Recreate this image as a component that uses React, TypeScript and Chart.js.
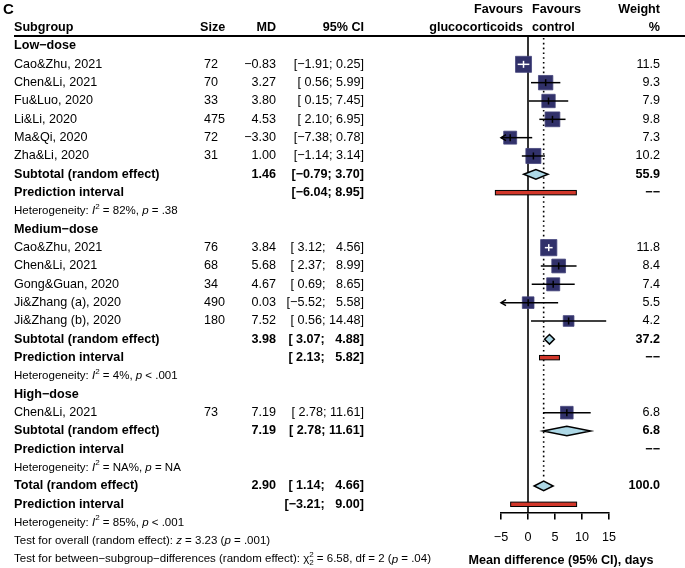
import React, { useEffect, useRef } from "react";
import { Chart, registerables } from "chart.js";
Chart.register(...registerables);

// ---------------- data ----------------
const groupNames = ["Low\u2212dose", "Medium\u2212dose", "High\u2212dose"];

const lowStudies = ["Cao&Zhu, 2021", "Chen&Li, 2021", "Fu&Luo, 2020", "Li&Li, 2020", "Ma&Qi, 2020", "Zha&Li, 2020"];
const lowSize = [72, 70, 33, 475, 72, 31];
const lowMD = [-0.83, 3.27, 3.8, 4.53, -3.3, 1.0];
const lowLower = [-1.91, 0.56, 0.15, 2.1, -7.38, -1.14];
const lowUpper = [0.25, 5.99, 7.45, 6.95, 0.78, 3.14];
const lowWeight = [11.5, 9.3, 7.9, 9.8, 7.3, 10.2];

const medStudies = ["Cao&Zhu, 2021", "Chen&Li, 2021", "Gong&Guan, 2020", "Ji&Zhang (a), 2020", "Ji&Zhang (b), 2020"];
const medSize = [76, 68, 34, 490, 180];
const medMD = [3.84, 5.68, 4.67, 0.03, 7.52];
const medLower = [3.12, 2.37, 0.69, -5.52, 0.56];
const medUpper = [4.56, 8.99, 8.65, 5.58, 14.48];
const medWeight = [11.8, 8.4, 7.4, 5.5, 4.2];

const highStudies = ["Chen&Li, 2021"];
const highSize = [73];
const highMD = [7.19];
const highLower = [2.78];
const highUpper = [11.61];
const highWeight = [6.8];

const subtotalMD = [1.46, 3.98, 7.19];
const subtotalLower = [-0.79, 3.07, 2.78];
const subtotalUpper = [3.7, 4.88, 11.61];
const subtotalWeight = [55.9, 37.2, 6.8];
const predLower: (number | null)[] = [-6.04, 2.13, null];
const predUpper: (number | null)[] = [8.95, 5.82, null];
const hetI2 = ["82%", "4%", "NA%"];
const hetP = ["= .38", "< .001", "= NA"];

const totalMD = 2.9;
const totalLower = 1.14;
const totalUpper = 4.66;
const totalWeight = 100.0;
const totalPredLower = -3.21;
const totalPredUpper = 9.0;
const totalI2 = "85%";
const totalP = "< .001";
const overallZ = "3.23";
const overallP = "= .001";
const betweenChi = "6.58";
const betweenDf = "2";
const betweenP = "= .04";

const xTicks = [-5, 0, 5, 10, 15];
const axisTitle = "Mean difference (95% CI), days";
const leftLabel = ["Favours", "glucocorticoids"];
const rightLabel = ["Favours", "control"];

// ---------------- styles ----------------
const FONT = '"Liberation Sans", Arial, Helvetica, sans-serif';
const FS = 12.6;
const HS = 11.5;
const SQ_FILL = "#31316a";
const DIAMOND_FILL = "#add8e6";
const PRED_FILL = "#d2372a";

function fmt2(v: number) {
  return v < 0 ? "\u2212" + Math.abs(v).toFixed(2) : v.toFixed(2);
}
function ciText(lo: number, hi: number, upW: number) {
  const l = lo < 0 ? fmt2(lo) : " " + fmt2(lo);
  let u = fmt2(hi);
  while (u.length < upW) u = "\u2007" + u;
  return "[" + l + "; " + u + "]";
}

type Row = {
  kind: string;
  label?: string;
  size?: string;
  md?: number;
  lo?: number | null;
  hi?: number | null;
  w?: number;
  upW?: number;
  i2?: string;
  p?: string;
  dash?: boolean;
};

const groups = [
  { name: groupNames[0], studies: lowStudies, size: lowSize, md: lowMD, lo: lowLower, hi: lowUpper, w: lowWeight },
  { name: groupNames[1], studies: medStudies, size: medSize, md: medMD, lo: medLower, hi: medUpper, w: medWeight },
  { name: groupNames[2], studies: highStudies, size: highSize, md: highMD, lo: highLower, hi: highUpper, w: highWeight },
];

const rows: Row[] = [];
const allUppers: number[] = [];
groups.forEach((g, gi) => {
  const ups = [...g.hi, subtotalUpper[gi]];
  if (predUpper[gi] != null) ups.push(predUpper[gi] as number);
  allUppers.push(...ups);
  const upW = Math.max(...ups.map((v) => fmt2(v).length));
  rows.push({ kind: "group", label: g.name });
  g.studies.forEach((s, i) =>
    rows.push({ kind: "study", label: s, size: String(g.size[i]), md: g.md[i], lo: g.lo[i], hi: g.hi[i], w: g.w[i], upW })
  );
  rows.push({ kind: "sub", label: "Subtotal (random effect)", md: subtotalMD[gi], lo: subtotalLower[gi], hi: subtotalUpper[gi], w: subtotalWeight[gi], upW });
  rows.push({ kind: "pred", label: "Prediction interval", lo: predLower[gi], hi: predUpper[gi], upW, dash: true });
  rows.push({ kind: "het", i2: hetI2[gi], p: hetP[gi] });
});
allUppers.push(totalUpper, totalPredUpper);
const allUpW = Math.max(...allUppers.map((v) => fmt2(v).length));
rows.push({ kind: "total", label: "Total (random effect)", md: totalMD, lo: totalLower, hi: totalUpper, w: totalWeight, upW: allUpW });
rows.push({ kind: "pred", label: "Prediction interval", lo: totalPredLower, hi: totalPredUpper, upW: allUpW, dash: false });
rows.push({ kind: "het", i2: totalI2, p: totalP });
rows.push({ kind: "overall" });
rows.push({ kind: "between" });

const totalRowIndex = rows.findIndex((r) => r.kind === "total");

function squareSide(w: number) {
  return 7.65 + 0.726 * w;
}

const squarePoints: { x: number; y: number }[] = [];
const squareRadius: number[] = [];
rows.forEach((r, i) => {
  if (r.kind === "study") {
    squarePoints.push({ x: r.md as number, y: i });
    squareRadius.push(squareSide(r.w as number) / Math.SQRT2);
  }
});

// ---------------- layout columns ----------------
const COL_LABEL = 14;
const COL_SIZE = 204;
const COL_MD = 276;
const COL_CI = 364;
const COL_W = 660;
const COL_FAV_L = 523;
const COL_FAV_R = 532;
const HEADER_LINE_Y = 36;
const TITLE_X = 561;
const TITLE_Y = 561;

type Seg = [string, string];

function drawSegs(ctx: CanvasRenderingContext2D, segs: Seg[], x: number, y: number, fs: number) {
  let cx = x;
  ctx.textAlign = "left";
  ctx.textBaseline = "middle";
  for (const [t, st] of segs) {
    if (st === "n" || st === "i") {
      ctx.font = `${st === "i" ? "italic " : ""}${fs}px ${FONT}`;
      ctx.fillText(t, cx, y);
      cx += ctx.measureText(t).width;
    } else {
      const small = fs * 0.7;
      ctx.font = `${small}px ${FONT}`;
      const wdt = ctx.measureText(t).width;
      if (st === "sup" || st === "supsub") ctx.fillText(t, cx, y - fs * 0.4);
      if (st === "sub" || st === "supsub") ctx.fillText(t, cx, y + fs * 0.3);
      cx += wdt;
    }
  }
}

const forestPlugin = {
  id: "forest",
  beforeDatasetsDraw(chart: any) {
    const { ctx, chartArea } = chart;
    const xs = chart.scales.x;
    const ys = chart.scales.y;
    ctx.save();
    // header line
    ctx.strokeStyle = "#000";
    ctx.lineWidth = 2;
    ctx.beginPath();
    ctx.moveTo(COL_LABEL, HEADER_LINE_Y);
    ctx.lineTo(chart.width, HEADER_LINE_Y);
    ctx.stroke();
    // reference line at 0
    ctx.lineWidth = 1.6;
    ctx.beginPath();
    const x0 = xs.getPixelForValue(0);
    ctx.moveTo(x0, HEADER_LINE_Y);
    ctx.lineTo(x0, chartArea.bottom);
    ctx.stroke();
    // random effect dotted line
    ctx.setLineDash([1.6, 3.2]);
    ctx.lineWidth = 1.6;
    const xr = xs.getPixelForValue(totalMD);
    ctx.beginPath();
    ctx.moveTo(xr, HEADER_LINE_Y + 2);
    ctx.lineTo(xr, ys.getPixelForValue(totalRowIndex) - 7);
    ctx.stroke();
    ctx.setLineDash([]);
    ctx.restore();
  },
  afterDatasetsDraw(chart: any) {
    const { ctx } = chart;
    const xs = chart.scales.x;
    const ys = chart.scales.y;
    const xmin = xs.min;
    const xmax = xs.max;
    ctx.save();
    rows.forEach((r, i) => {
      const y = ys.getPixelForValue(i);
      if (r.kind === "study") {
        const lo = r.lo as number;
        const hi = r.hi as number;
        const side = squareSide(r.w as number);
        const xl = xs.getPixelForValue(Math.max(lo, xmin));
        const xh = xs.getPixelForValue(Math.min(hi, xmax));
        const inside = xs.getPixelForValue(hi) - xs.getPixelForValue(lo) < side;
        ctx.strokeStyle = inside ? "#fff" : "#000";
        ctx.lineWidth = 1.5;
        ctx.beginPath();
        ctx.moveTo(xl, y);
        ctx.lineTo(xh, y);
        ctx.stroke();
        const xm = xs.getPixelForValue(r.md as number);
        ctx.beginPath();
        ctx.moveTo(xm, y - 3.5);
        ctx.lineTo(xm, y + 3.5);
        ctx.stroke();
        if (lo < xmin) {
          ctx.strokeStyle = "#000";
          ctx.beginPath();
          ctx.moveTo(xl + 5, y - 3);
          ctx.lineTo(xl, y);
          ctx.lineTo(xl + 5, y + 3);
          ctx.stroke();
        }
        if (hi > xmax) {
          ctx.strokeStyle = "#000";
          ctx.beginPath();
          ctx.moveTo(xh - 5, y - 3);
          ctx.lineTo(xh, y);
          ctx.lineTo(xh - 5, y + 3);
          ctx.stroke();
        }
      } else if (r.kind === "sub" || r.kind === "total") {
        const xl = xs.getPixelForValue(r.lo as number);
        const xh = xs.getPixelForValue(r.hi as number);
        const xm = xs.getPixelForValue(r.md as number);
        const hh = 4.8;
        ctx.beginPath();
        ctx.moveTo(xl, y);
        ctx.lineTo(xm, y - hh);
        ctx.lineTo(xh, y);
        ctx.lineTo(xm, y + hh);
        ctx.closePath();
        ctx.fillStyle = DIAMOND_FILL;
        ctx.fill();
        ctx.strokeStyle = "#000";
        ctx.lineWidth = 1.5;
        ctx.stroke();
      } else if (r.kind === "pred" && r.lo != null && r.hi != null) {
        const xl = xs.getPixelForValue(r.lo);
        const xh = xs.getPixelForValue(r.hi);
        ctx.fillStyle = PRED_FILL;
        ctx.fillRect(xl, y - 2.2, xh - xl, 4.4);
        ctx.strokeStyle = "#000";
        ctx.lineWidth = 1;
        ctx.strokeRect(xl, y - 2.2, xh - xl, 4.4);
      }
    });

    // ---------- text ----------
    ctx.fillStyle = "#000";
    ctx.textBaseline = "middle";
    const yH1 = ys.getPixelForValue(-2);
    const yH2 = ys.getPixelForValue(-1);
    ctx.font = `bold 15px ${FONT}`;
    ctx.textAlign = "left";
    ctx.fillText("C", 3, 10);
    const bold = `bold ${FS}px ${FONT}`;
    const norm = `${FS}px ${FONT}`;
    ctx.font = bold;
    ctx.textAlign = "right";
    ctx.fillText(leftLabel[0], COL_FAV_L, yH1);
    ctx.fillText(leftLabel[1], COL_FAV_L, yH2);
    ctx.fillText("Weight", COL_W, yH1);
    ctx.fillText("%", COL_W, yH2);
    ctx.fillText("MD", COL_MD, yH2);
    ctx.fillText("95% CI", COL_CI, yH2);
    ctx.textAlign = "left";
    ctx.fillText(rightLabel[0], COL_FAV_R, yH1);
    ctx.fillText(rightLabel[1], COL_FAV_R, yH2);
    ctx.fillText("Subgroup", COL_LABEL, yH2);
    ctx.fillText("Size", COL_SIZE - 4, yH2);
    // axis title
    ctx.textAlign = "center";
    ctx.fillText(axisTitle, TITLE_X, TITLE_Y);

    rows.forEach((r, i) => {
      const y = ys.getPixelForValue(i);
      const isBold = r.kind !== "study";
      if (r.kind === "het") {
        drawSegs(ctx, [["Heterogeneity: ", "n"], ["I", "i"], ["2", "sup"], [" = " + r.i2 + ", ", "n"], ["p", "i"], [" " + r.p, "n"]], COL_LABEL, y, HS);
        return;
      }
      if (r.kind === "overall") {
        drawSegs(ctx, [["Test for overall (random effect): ", "n"], ["z", "i"], [" = " + overallZ + " (", "n"], ["p", "i"], [" " + overallP + ")", "n"]], COL_LABEL, y, HS);
        return;
      }
      if (r.kind === "between") {
        drawSegs(
          ctx,
          [
            ["Test for between\u2212subgroup\u2212differences (random effect): ", "n"],
            ["\u03c7", "n"],
            ["2", "supsub"],
            [" = " + betweenChi + ", df = " + betweenDf + " (", "n"],
            ["p", "i"],
            [" " + betweenP + ")", "n"],
          ],
          COL_LABEL,
          y,
          HS
        );
        return;
      }
      ctx.font = isBold ? bold : norm;
      ctx.textAlign = "left";
      ctx.fillText(r.label as string, COL_LABEL, y);
      if (r.size) {
        ctx.font = norm;
        ctx.fillText(r.size, COL_SIZE, y);
      }
      ctx.font = isBold ? bold : norm;
      ctx.textAlign = "right";
      if (r.md != null) ctx.fillText(fmt2(r.md), COL_MD, y);
      if (r.lo != null && r.hi != null) ctx.fillText(ciText(r.lo, r.hi, r.upW as number), COL_CI, y);
      if (r.w != null) ctx.fillText(r.w.toFixed(1), COL_W, y);
      if (r.kind === "pred" && r.dash) ctx.fillText("\u2212\u2212", COL_W, y);
    });
    ctx.restore();
  },
};

export default function App() {
  const ref = useRef<HTMLCanvasElement | null>(null);
  useEffect(() => {
    document.body.style.margin = "0";
    const canvas = ref.current;
    if (!canvas) return;
    const chart = new Chart(canvas, {
      type: "scatter",
      data: {
        datasets: [
          {
            data: squarePoints,
            pointStyle: "rect",
            pointRadius: squareRadius,
            pointHoverRadius: squareRadius,
            backgroundColor: SQ_FILL,
            borderColor: "#45457c",
            borderWidth: 0.8,
            clip: false,
          } as any,
        ],
      },
      options: {
        animation: false,
        responsive: false,
        devicePixelRatio: 1,
        events: [],
        layout: { padding: { left: 501, right: 76, top: HEADER_LINE_Y, bottom: 12.5 } },
        plugins: { legend: { display: false }, tooltip: { enabled: false } },
        scales: {
          x: {
            type: "linear",
            min: xTicks[0],
            max: xTicks[xTicks.length - 1],
            position: "bottom",
            afterBuildTicks: (s: any) => {
              s.ticks = xTicks.map((v) => ({ value: v }));
            },
            ticks: {
              color: "#000",
              font: { family: FONT, size: FS },
              padding: 10.5,
              maxRotation: 0,
              autoSkip: false,
              callback: (v: any) => (Number(v) < 0 ? "\u2212" + Math.abs(Number(v)) : String(v)),
            },
            grid: { drawOnChartArea: false, drawTicks: true, tickLength: 7, color: "#000", lineWidth: 1.6 },
            border: { display: true, color: "#000", width: 1.6 },
            title: { display: false },
          },
          y: { type: "linear", display: false, min: -0.545, max: 25.44, reverse: true },
        },
      },
      plugins: [forestPlugin],
    } as any);
    return () => chart.destroy();
  }, []);
  return <canvas ref={ref} width={685} height={568} style={{ display: "block" }} />;
}
